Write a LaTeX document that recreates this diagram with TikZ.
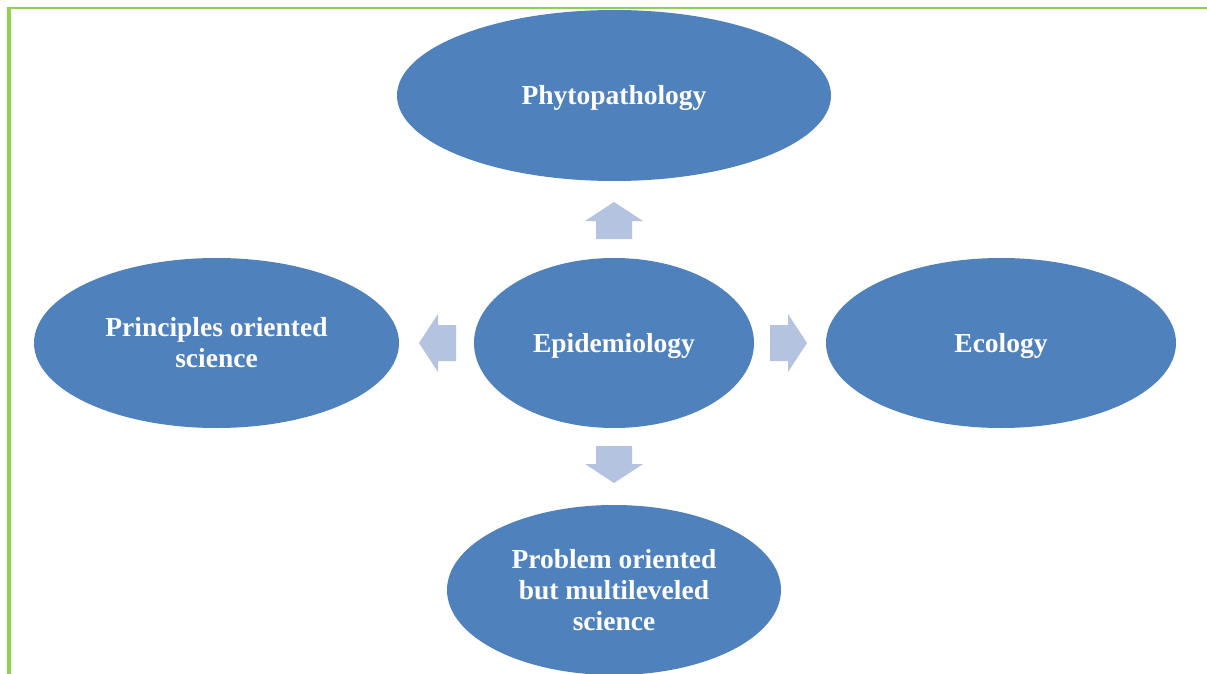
\documentclass[tikz,border=0pt]{standalone}
\usepackage{fontspec}
\setmainfont{Liberation Serif}
\usetikzlibrary{shapes.geometric}
\definecolor{ellblue}{HTML}{4F81BD}
\definecolor{arrblue}{HTML}{B4C3DF}
\definecolor{framegreen}{HTML}{92D050}
\tikzset{
  bubble/.style={ellipse, fill=ellblue, draw=none, inner sep=0pt, text=white,
    font=\fontsize{27.5}{31}\selectfont\bfseries, align=center},
  oneline/.style={text height=19pt, text depth=0pt},
  bigarrow/.pic={\fill[arrblue] (0,0) -- (-29,-19) -- (-18,-19) -- (-18,-37) -- (18,-37) -- (18,-19) -- (29,-19) -- cycle;}
}
\begin{document}
\begin{tikzpicture}[x=1pt,y=1pt]
\useasboundingbox (0,0) rectangle (1207,-674);
\fill[white] (0,0) rectangle (1207,-674);
\draw[framegreen, line width=2pt] (7,-8) -- (1207,-8);
\draw[framegreen, line width=4pt] (9,-7) -- (9,-674);
\node[bubble, oneline, minimum width=434pt, minimum height=171pt] (phyto) at (614,-95.5) {Phytopathology};
\node[bubble, minimum width=365pt, minimum height=170pt] (princ) at (216.5,-343) {Principles oriented\\science};
\node[bubble, oneline, minimum width=280pt, minimum height=170pt] (epi) at (614,-343) {Epidemiology};
\node[bubble, oneline, minimum width=350pt, minimum height=170pt] (eco) at (1001,-343) {Ecology};
\node[bubble, minimum width=334pt, minimum height=170pt] (prob) at (614,-590) {Problem oriented\\but multileveled\\science};
\pic at (614,-202) {bigarrow};
\pic[rotate=90] at (419,-343) {bigarrow};
\pic[rotate=-90] at (807,-343) {bigarrow};
\pic[rotate=180] at (614,-483) {bigarrow};
\end{tikzpicture}
\end{document}
